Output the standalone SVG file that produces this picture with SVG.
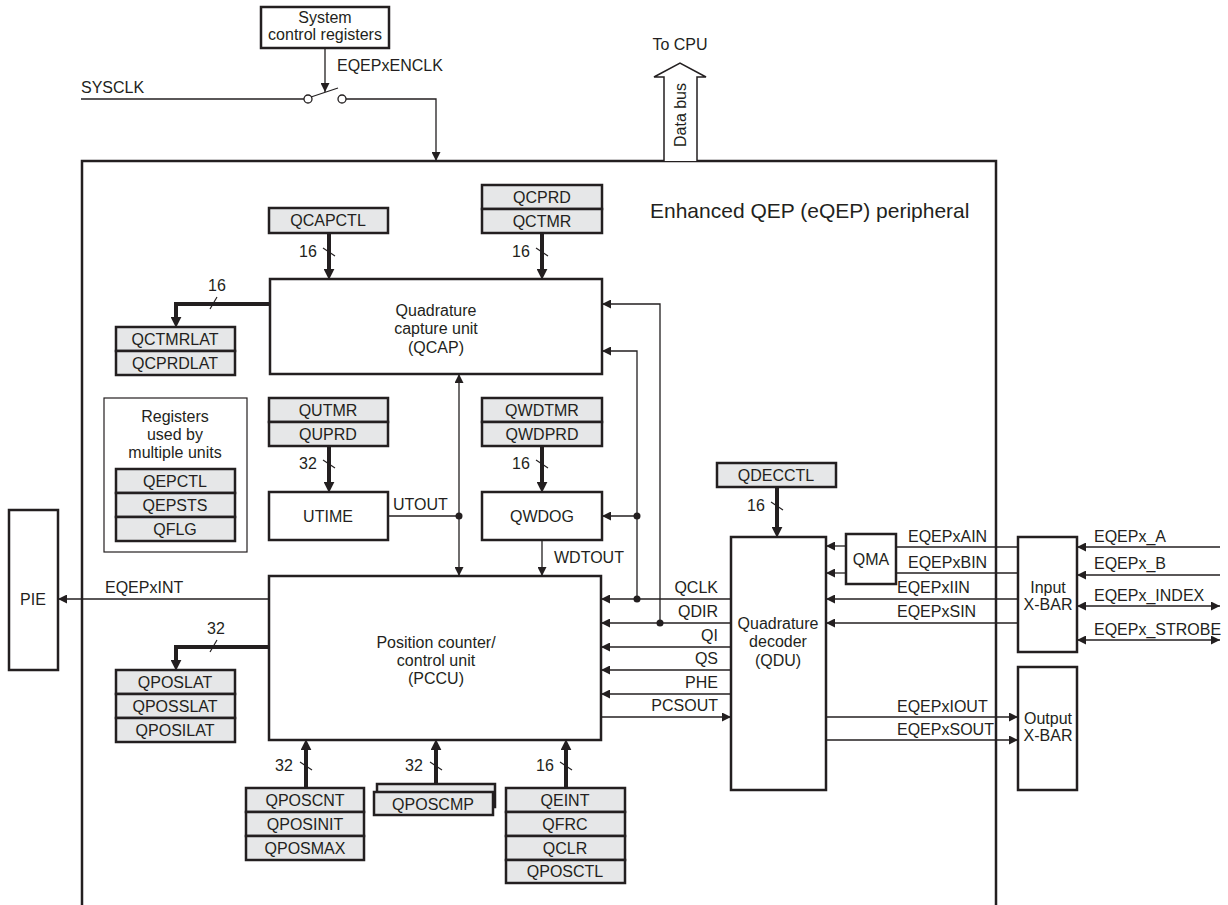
<svg xmlns="http://www.w3.org/2000/svg" width="1228" height="905" viewBox="0 0 1228 905">
<style>
text{font-family:"Liberation Sans",Arial,sans-serif;font-size:16px;fill:#231f20}
.m{text-anchor:middle}
.e{text-anchor:end}
.box{fill:#fff;stroke:#231f20;stroke-width:2.5}
.reg{fill:#e6e7e8;stroke:#231f20;stroke-width:2.5}
.thin{fill:none;stroke:#231f20;stroke-width:1.3}
.bus{fill:none;stroke:#231f20;stroke-width:4}
.sl{fill:none;stroke:#231f20;stroke-width:1.2}
.dot{fill:#231f20}
</style>
<defs>
<marker id="a" viewBox="0 0 10 10" refX="10" refY="5" markerWidth="9" markerHeight="9" markerUnits="userSpaceOnUse" orient="auto-start-reverse"><path d="M0,0 L10,5 L0,10 z" fill="#231f20"/></marker>
<marker id="b" viewBox="0 0 10 10" refX="3" refY="5" markerWidth="11" markerHeight="11" markerUnits="userSpaceOnUse" orient="auto"><path d="M0,0 L10,5 L0,10 z" fill="#231f20"/></marker>
</defs>

<g id="eqep">
<path d="M82,905 V161 H996 V905" fill="none" stroke="#231f20" stroke-width="2.5"/>
<text x="650" y="218" style="font-size:21px">Enhanced QEP (eQEP) peripheral</text>
</g>

<g id="sysctl">
<rect class="box" x="261" y="7" width="128" height="41"/>
<text class="m" x="325" y="23">System</text>
<text class="m" x="325" y="40">control registers</text>
</g>

<g id="switch">
<circle cx="308" cy="99" r="4" fill="#fff" stroke="#231f20" stroke-width="1.3"/>
<circle cx="342" cy="99" r="4" fill="#fff" stroke="#231f20" stroke-width="1.3"/>
<line x1="311" y1="97" x2="338" y2="88" stroke="#231f20" stroke-width="1.3"/>
</g>

<g id="databus">
<path d="M664,161 V77 H654 L680,63 L706,77 H697 V161" fill="#fff" stroke="#231f20" stroke-width="1.5"/>
<text class="m" x="680" y="50">To CPU</text>
<text class="m" transform="translate(686,115) rotate(-90)">Data bus</text>
</g>

<g id="qcapctl"><rect class="reg" x="269" y="208" width="119" height="25"/><text class="m" x="328" y="226">QCAPCTL</text></g>
<g id="qcprd"><rect class="reg" x="482" y="185" width="120" height="24"/><rect class="reg" x="482" y="209" width="120" height="24"/><text class="m" x="542" y="203">QCPRD</text><text class="m" x="542" y="227">QCTMR</text></g>
<g id="qcap"><rect class="box" x="270" y="279" width="332" height="95"/><text class="m" x="436" y="316">Quadrature</text><text class="m" x="436" y="334">capture unit</text><text class="m" x="436" y="353">(QCAP)</text></g>
<g id="qctmrlat"><rect class="reg" x="116" y="327" width="119" height="24"/><rect class="reg" x="116" y="351" width="119" height="24"/><text class="m" x="175" y="345">QCTMRLAT</text><text class="m" x="175" y="369">QCPRDLAT</text></g>

<g id="shared">
<rect x="104" y="398" width="143" height="154" fill="#fff" stroke="#231f20" stroke-width="1.2"/>
<text class="m" x="175" y="422">Registers</text><text class="m" x="175" y="440">used by</text><text class="m" x="175" y="458">multiple units</text>
<rect class="reg" x="116" y="469" width="119" height="24"/><rect class="reg" x="116" y="493" width="119" height="24"/><rect class="reg" x="116" y="517" width="119" height="24"/>
<text class="m" x="175" y="487">QEPCTL</text><text class="m" x="175" y="511">QEPSTS</text><text class="m" x="175" y="535">QFLG</text>
</g>

<g id="qutmr"><rect class="reg" x="269" y="398" width="119" height="24"/><rect class="reg" x="269" y="422" width="119" height="24"/><text class="m" x="328" y="416">QUTMR</text><text class="m" x="328" y="440">QUPRD</text></g>
<g id="utime"><rect class="box" x="269" y="492" width="119" height="48"/><text class="m" x="328" y="522">UTIME</text></g>
<g id="qwdtmr"><rect class="reg" x="482" y="398" width="120" height="24"/><rect class="reg" x="482" y="422" width="120" height="24"/><text class="m" x="542" y="416">QWDTMR</text><text class="m" x="542" y="440">QWDPRD</text></g>
<g id="qwdog"><rect class="box" x="482" y="492" width="120" height="48"/><text class="m" x="542" y="522">QWDOG</text></g>

<g id="pccu"><rect class="box" x="269" y="576" width="332" height="164"/><text class="m" x="436" y="648">Position counter/</text><text class="m" x="436" y="666">control unit</text><text class="m" x="436" y="684">(PCCU)</text></g>
<g id="pie"><rect class="box" x="9" y="510" width="49" height="160"/><text class="m" x="33" y="605">PIE</text></g>
<g id="qposlat"><rect class="reg" x="116" y="670" width="119" height="24"/><rect class="reg" x="116" y="694" width="119" height="24"/><rect class="reg" x="116" y="718" width="119" height="24"/><text class="m" x="175" y="688">QPOSLAT</text><text class="m" x="175" y="712">QPOSSLAT</text><text class="m" x="175" y="736">QPOSILAT</text></g>

<g id="qposcnt"><rect class="reg" x="246" y="788" width="118" height="24"/><rect class="reg" x="246" y="812" width="118" height="24"/><rect class="reg" x="246" y="836" width="118" height="24"/><text class="m" x="305" y="806">QPOSCNT</text><text class="m" x="305" y="830">QPOSINIT</text><text class="m" x="305" y="854">QPOSMAX</text></g>
<g id="qposcmp"><rect class="reg" x="377" y="784" width="118" height="23"/><rect class="reg" x="374" y="792" width="119" height="23"/><text class="m" x="433" y="810">QPOSCMP</text></g>
<g id="qeint"><rect class="reg" x="506" y="788" width="119" height="24"/><rect class="reg" x="506" y="812" width="119" height="24"/><rect class="reg" x="506" y="836" width="119" height="24"/><rect class="reg" x="506" y="860" width="119" height="23"/><text class="m" x="565" y="806">QEINT</text><text class="m" x="565" y="830">QFRC</text><text class="m" x="565" y="854">QCLR</text><text class="m" x="565" y="877">QPOSCTL</text></g>

<g id="qdecctl"><rect class="reg" x="717" y="463" width="119" height="24"/><text class="m" x="776" y="481">QDECCTL</text></g>
<g id="qdu"><rect class="box" x="731" y="537" width="95" height="253"/><text class="m" x="778" y="629">Quadrature</text><text class="m" x="778" y="647">decoder</text><text class="m" x="778" y="666">(QDU)</text></g>
<g id="qma"><rect class="box" x="846" y="534" width="50" height="50"/><text class="m" x="871" y="565">QMA</text></g>
<g id="inxbar"><rect class="box" x="1018" y="537" width="59" height="115"/><text class="m" x="1048" y="593">Input</text><text class="m" x="1048" y="610">X-BAR</text></g>
<g id="outxbar"><rect class="box" x="1018" y="667" width="59" height="123"/><text class="m" x="1048" y="724">Output</text><text class="m" x="1048" y="741">X-BAR</text></g>

<g id="connectors">
<path class="thin" d="M325,48 V92" marker-end="url(#a)"/>
<path class="thin" d="M81,99 H304"/>
<path class="thin" d="M346,99 H436 V161" marker-end="url(#a)"/>
<path class="bus" d="M329,233 V272" marker-end="url(#b)"/>
<path class="bus" d="M542,233 V272" marker-end="url(#b)"/>
<path class="bus" d="M270,304 H176 V320" marker-end="url(#b)"/>
<path class="bus" d="M329,446 V485" marker-end="url(#b)"/>
<path class="bus" d="M542,446 V485" marker-end="url(#b)"/>
<path class="bus" d="M269,647 H176 V663" marker-end="url(#b)"/>
<path class="bus" d="M306,788 V747" marker-end="url(#b)"/>
<path class="bus" d="M436,784 V747" marker-end="url(#b)"/>
<path class="bus" d="M566,788 V747" marker-end="url(#b)"/>
<path class="bus" d="M777,487 V530" marker-end="url(#b)"/>
<path class="thin" d="M459,374 V576" marker-start="url(#a)" marker-end="url(#a)"/>
<path class="thin" d="M388,516 H459"/>
<path class="thin" d="M542,540 V576" marker-end="url(#a)"/>
<path class="thin" d="M660,623 V304 H602" marker-end="url(#a)"/>
<path class="thin" d="M637,599 V351 H602" marker-end="url(#a)"/>
<path class="thin" d="M637,516 H602" marker-end="url(#a)"/>
<path class="thin" d="M731,599 H601" marker-end="url(#a)"/>
<path class="thin" d="M731,623 H601" marker-end="url(#a)"/>
<path class="thin" d="M731,647 H601" marker-end="url(#a)"/>
<path class="thin" d="M731,670 H601" marker-end="url(#a)"/>
<path class="thin" d="M731,694 H601" marker-end="url(#a)"/>
<path class="thin" d="M601,717 H731" marker-end="url(#a)"/>
<path class="thin" d="M269,599 H58" marker-end="url(#a)"/>
<path class="thin" d="M846,546 H826" marker-end="url(#a)"/>
<path class="thin" d="M846,573 H826" marker-end="url(#a)"/>
<path class="thin" d="M1018,547 H896"/>
<path class="thin" d="M1018,573 H896"/>
<path class="thin" d="M1018,599 H826" marker-end="url(#a)"/>
<path class="thin" d="M1018,623 H826" marker-end="url(#a)"/>
<path class="thin" d="M826,717 H1018" marker-end="url(#a)"/>
<path class="thin" d="M826,740 H1018" marker-end="url(#a)"/>
<path class="thin" d="M1220,547 H1077" marker-end="url(#a)"/>
<path class="thin" d="M1220,575 H1077" marker-end="url(#a)"/>
<path class="thin" d="M1077,606 H1220" marker-start="url(#a)" marker-end="url(#a)"/>
<path class="thin" d="M1077,640 H1220" marker-start="url(#a)" marker-end="url(#a)"/>
<circle class="dot" cx="459" cy="516" r="3.5"/>
<circle class="dot" cx="637" cy="516" r="3.5"/>
<circle class="dot" cx="637" cy="599" r="3.5"/>
<circle class="dot" cx="660" cy="623" r="3.5"/>
<line class="sl" x1="323" y1="248" x2="335" y2="256"/>
<line class="sl" x1="536" y1="248" x2="548" y2="256"/>
<line class="sl" x1="210" y1="309" x2="217" y2="297"/>
<line class="sl" x1="323" y1="460" x2="335" y2="468"/>
<line class="sl" x1="536" y1="460" x2="548" y2="468"/>
<line class="sl" x1="210" y1="652" x2="217" y2="640"/>
<line class="sl" x1="300" y1="762" x2="312" y2="770"/>
<line class="sl" x1="430" y1="762" x2="442" y2="770"/>
<line class="sl" x1="560" y1="762" x2="572" y2="770"/>
<line class="sl" x1="771" y1="502" x2="783" y2="510"/>
<text x="81" y="93">SYSCLK</text>
<text x="337" y="71">EQEPxENCLK</text>
<text class="m" x="308" y="257">16</text>
<text class="m" x="521" y="257">16</text>
<text class="m" x="217" y="291">16</text>
<text class="m" x="308" y="469">32</text>
<text class="m" x="521" y="469">16</text>
<text x="393" y="510">UTOUT</text>
<text x="554" y="563">WDTOUT</text>
<text x="105" y="593">EQEPxINT</text>
<text class="m" x="216" y="634">32</text>
<text class="m" x="284" y="771">32</text>
<text class="m" x="414" y="771">32</text>
<text class="m" x="545" y="771">16</text>
<text class="m" x="756" y="511">16</text>
<text class="e" x="718" y="593">QCLK</text>
<text class="e" x="718" y="617">QDIR</text>
<text class="e" x="718" y="641">QI</text>
<text class="e" x="718" y="664">QS</text>
<text class="e" x="718" y="688">PHE</text>
<text class="e" x="718" y="711">PCSOUT</text>
<text x="908" y="542">EQEPxAIN</text>
<text x="908" y="568">EQEPxBIN</text>
<text x="897" y="593">EQEPxIIN</text>
<text x="897" y="617">EQEPxSIN</text>
<text x="897" y="712">EQEPxIOUT</text>
<text x="897" y="735">EQEPxSOUT</text>
<text x="1094" y="542">EQEPx_A</text>
<text x="1094" y="569">EQEPx_B</text>
<text x="1094" y="601">EQEPx_INDEX</text>
<text x="1094" y="635">EQEPx_STROBE</text>
</g>
</svg>
